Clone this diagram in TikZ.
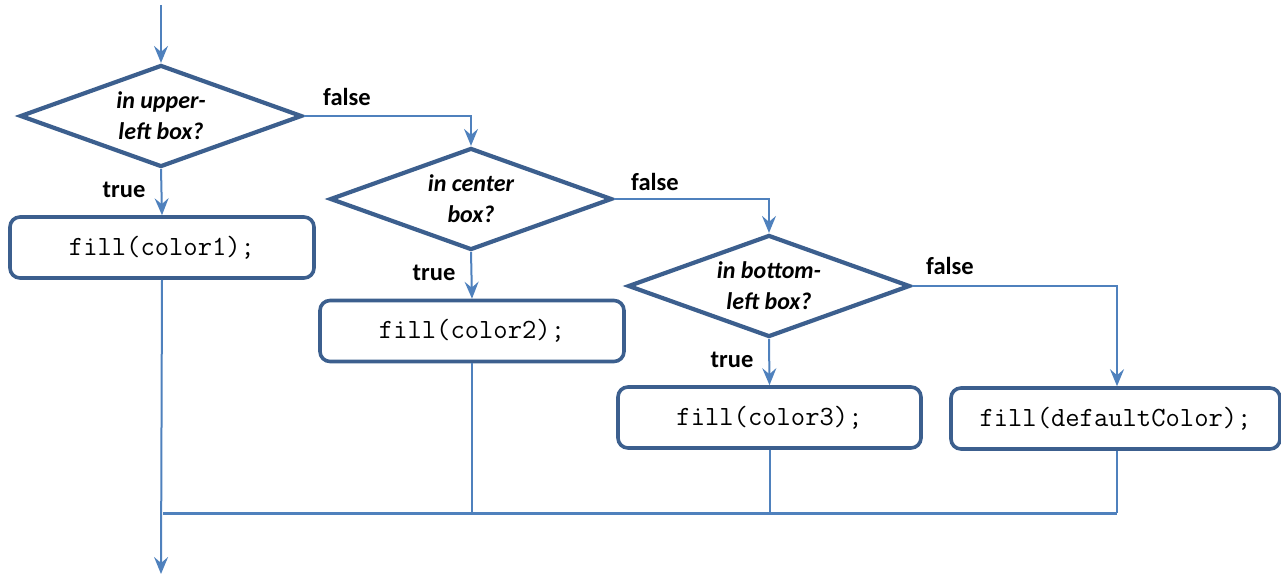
\documentclass[tikz,border=0pt]{standalone}
\usepackage{fontspec}
\setmainfont{Carlito}
\usetikzlibrary{shapes.geometric,arrows.meta}
\definecolor{shapeblue}{HTML}{3C5F8E}
\definecolor{linkblue}{HTML}{4F81BD}
\tikzset{
  decision/.style={diamond, draw=shapeblue, line width=4.2pt, aspect=2.76,
    minimum width=282pt, minimum height=102pt, inner sep=0pt, align=center,
    font=\fontsize{24}{31}\selectfont\bfseries\itshape},
  action/.style={rectangle, rounded corners=10pt, draw=shapeblue, line width=3.6pt,
    minimum height=61pt, font=\fontsize{27.8}{30}\selectfont\ttfamily},
  link/.style={draw=linkblue, line width=2pt},
  flow/.style={link, -{Stealth[length=17pt, width=14pt, inset=6pt]}},
  branch/.style={font=\fontsize{24.5}{26}\selectfont\bfseries, inner sep=0pt}
}
\begin{document}
\begin{tikzpicture}[x=1pt, y=-1pt]
\useasboundingbox (0,0) rectangle (1281,575);

% decisions
\node[decision] (d1) at (161,116) {in upper-\\left box?};
\node[decision] (d2) at (471,199) {in center\\box?};
\node[decision] (d3) at (769,286) {in bottom-\\left box?};

% actions
\node[action, minimum width=304pt] (b1) at (162,247.5) {fill(color1);};
\node[action, minimum width=304pt] (b2) at (472,331) {fill(color2);};
\node[action, minimum width=303pt] (b3) at (769.5,417.5) {fill(color3);};
\node[action, minimum width=329pt] (b4) at (1115.5,418.5) {fill(defaultColor);};

% entry and exit
\coordinate (start) at (161,5);
\coordinate (stop) at (161,574);
\coordinate (join) at (163,513);
\draw[flow] (start) -- (d1.north);

% true branches
\draw[flow] (d1.south) -- (b1.north);
\draw[flow] (d2.south) -- (b2.north);
\draw[flow] (d3.south) -- (b3.north);

% false branches
\draw[flow] (d1.east) -| (d2.north);
\draw[flow] (d2.east) -| (d3.north);
\draw[flow] (d3.east) -| (b4.north -| 1117,0);

% merge
\draw[link] (b2.south) -- (b2.south |- join);
\draw[link] (b3.south) -- (b3.south |- join);
\draw[link] (b4.south -| 1117,0) -- (1117,513);
\draw[link, line width=3pt] (join) -- (1117,513);
\draw[flow] (b1.south) -- (stop);

% branch labels
\node[branch] (t1) at (124,190) {true};
\node[branch] (t2) at (434,273) {true};
\node[branch] (t3) at (732,360) {true};
\node[branch] (f1) at (347,97) {false};
\node[branch] (f2) at (655,182) {false};
\node[branch] (f3) at (950,266) {false};
\end{tikzpicture}
\end{document}
